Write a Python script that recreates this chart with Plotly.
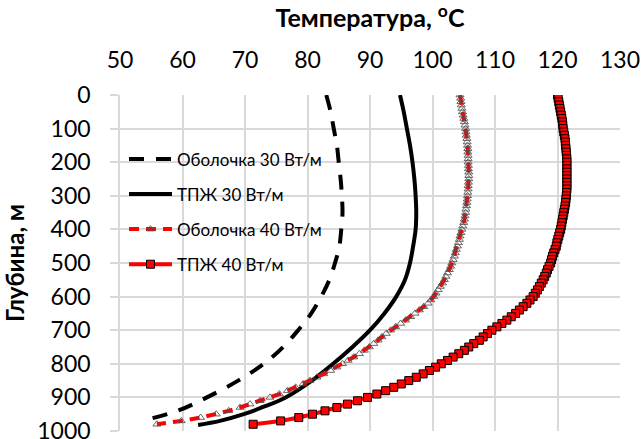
import plotly.graph_objects as go

# ---- data ----
x_title = "Температура, <sup>o</sup>C"
y_title = "Глубина, м"
names = ["Оболочка 30 Вт/м", "ТПЖ 30 Вт/м", "Оболочка 40 Вт/м", "ТПЖ 40 Вт/м"]

depth_shell30 = [0, 50, 100, 150, 200, 250, 300, 350, 400, 450, 500, 550, 600, 650,
                 700, 750, 800, 850, 900, 940, 970]
temp_shell30 = [83.0, 83.7, 84.2, 84.7, 85.0, 85.3, 85.5, 85.6, 85.4, 85.1, 84.4, 83.5,
                82.2, 80.6, 78.5, 76.1, 73.0, 68.9, 63.9, 59.2, 53.4]

depth_fluid30 = [0, 50, 100, 150, 200, 250, 300, 350, 400, 450, 500, 550, 600, 650,
                 700, 750, 800, 850, 900, 930, 950, 970, 982]
temp_fluid30 = [94.8, 95.4, 95.9, 96.4, 96.8, 97.1, 97.3, 97.4, 97.3, 96.9, 96.4, 95.6,
                94.2, 92.3, 90.0, 87.2, 84.1, 80.7, 76.5, 72.7, 69.8, 66.0, 62.5]

depth_fine = [0, 10, 20, 30, 40, 50, 60, 70, 80, 90,
              100, 110, 120, 130, 140, 150, 160, 170, 180, 190,
              200, 210, 220, 230, 240, 250, 260, 270, 280, 290,
              300, 310, 320, 330, 340, 350, 360, 370, 380, 390,
              400, 410, 420, 430, 440, 450, 460, 470, 480, 490,
              500, 510, 520, 530, 540, 550, 560, 570, 580, 590,
              600, 610, 620, 630, 640, 650, 660, 670, 680, 690,
              700, 710, 720, 730, 740, 750, 760, 770, 780, 790,
              800, 810, 820, 830, 840, 850, 860, 870, 880, 890,
              900, 910, 920, 930, 940, 950, 960, 970, 980]

temp_shell40 = [104.4, 104.5, 104.55, 104.6, 104.7, 104.8, 104.9, 105.0, 105.1, 105.2,
                105.3, 105.35, 105.4, 105.5, 105.55, 105.6, 105.65, 105.65, 105.7, 105.7,
                105.7, 105.75, 105.75, 105.8, 105.8, 105.8, 105.75, 105.7, 105.7, 105.65,
                105.6, 105.55, 105.5, 105.45, 105.35, 105.3, 105.2, 105.1, 105.0, 104.85,
                104.7, 104.55, 104.4, 104.3, 104.15, 104.0, 103.8, 103.65, 103.5, 103.3,
                103.1, 102.9, 102.7, 102.4, 102.15, 101.9, 101.6, 101.25, 100.9, 100.55,
                100.2, 99.75, 99.3, 98.6, 97.9, 97.2, 96.5, 95.7, 94.9, 94.1,
                93.3, 92.6, 91.9, 91.3, 90.6, 89.9, 89.1, 88.3, 87.4, 86.5,
                85.6, 84.7, 83.7, 82.6, 81.5, 80.4, 79.3, 78.1, 76.8, 75.5,
                74.0, 72.4, 70.8, 69.2, 67.4, 65.4, 62.9, 59.8, 55.9]

temp_fluid40 = [120.0, 120.1, 120.2, 120.3, 120.4, 120.5, 120.6, 120.7, 120.8, 120.85,
                120.9, 121.0, 121.1, 121.2, 121.25, 121.3, 121.35, 121.4, 121.45, 121.5,
                121.5, 121.5, 121.5, 121.5, 121.5, 121.5, 121.5, 121.5, 121.5, 121.45,
                121.4, 121.35, 121.3, 121.2, 121.1, 121.0, 120.9, 120.8, 120.7, 120.6,
                120.5, 120.35, 120.2, 120.05, 119.9, 119.8, 119.6, 119.4, 119.2, 119.05,
                118.9, 118.65, 118.4, 118.2, 117.95, 117.7, 117.4, 117.1, 116.8, 116.45,
                116.1, 115.6, 115.1, 114.5, 113.9, 113.3, 112.6, 111.9, 111.1, 110.3,
                109.5, 108.8, 108.1, 107.5, 106.6, 105.8, 105.1, 104.2, 103.3, 102.4,
                101.4, 100.5, 99.5, 98.5, 97.4, 96.2, 95.0, 93.8, 92.5, 91.1,
                89.6, 88.0, 86.4, 84.7, 82.8, 80.8, 78.6, 75.7, 71.3]

x_ticks = [50, 60, 70, 80, 90, 100, 110, 120, 130]
y_ticks = [0, 100, 200, 300, 400, 500, 600, 700, 800, 900, 1000]

FONT = "Lato, 'Open Sans', sans-serif"

fig = go.Figure()
fig.add_trace(go.Scatter(
    x=temp_shell30, y=depth_shell30, name=names[0], mode="lines",
    line=dict(color="black", width=4, dash="15px,12px", shape="spline"),
    legendgroup="a"))
fig.add_trace(go.Scatter(
    x=temp_fluid30, y=depth_fluid30, name=names[1], mode="lines",
    line=dict(color="black", width=4, shape="spline"),
    legendgroup="b"))
fig.add_trace(go.Scatter(
    x=temp_shell40, y=depth_fine, name=names[2], mode="lines+markers",
    line=dict(color="#ff0000", width=4, dash="10px,7px"),
    marker=dict(symbol="triangle-up-open", size=7, color="rgba(80,80,80,0.85)",
                line=dict(width=1)),
    legendgroup="c"))
fig.add_trace(go.Scatter(
    x=temp_fluid40, y=depth_fine, name=names[3], mode="lines+markers",
    line=dict(color="#ff0000", width=4),
    marker=dict(symbol="square", size=8, color="#ff0000",
                line=dict(color="black", width=1)),
    legendgroup="d"))

fig.update_layout(
    width=643, height=439,
    margin=dict(l=120, r=23, t=95, b=8),
    paper_bgcolor="white", plot_bgcolor="white",
    font=dict(family=FONT, color="black", size=23),
    showlegend=True,
    legend=dict(x=0.008, y=0.862, xanchor="left", yanchor="top",
                bgcolor="rgba(255,255,255,0)", font=dict(size=17, family=FONT),
                tracegroupgap=10, itemwidth=43),
    xaxis=dict(
        side="top", range=[50, 130], tickvals=x_ticks, ticktext=[str(v) for v in x_ticks],
        showgrid=True, gridcolor="#d9d9d9", gridwidth=1.5, zeroline=False,
        showline=False, ticks="", ticklabelstandoff=21, automargin=False,
        ticklabeloverflow="allow",
        tickfont=dict(size=23),
        title=dict(text=x_title, font=dict(size=25, family=FONT, weight="bold"), standoff=12),
    ),
    yaxis=dict(
        range=[1000, 0], tickvals=y_ticks, ticktext=[str(v) for v in y_ticks],
        showgrid=True, gridcolor="#d9d9d9", gridwidth=1.5, zeroline=False,
        showline=True, linecolor="#d9d9d9", linewidth=1.5,
        ticks="outside", ticklen=8, tickcolor="#d9d9d9", tickwidth=1.5,
        ticklabelstandoff=15, tickfont=dict(size=23), automargin=False,
        ticklabeloverflow="allow",
        title=dict(text=y_title, font=dict(size=24, family=FONT, weight="bold"), standoff=12),
    ),
)

fig.write_html("out.html", config={"displayModeBar": False},
               post_script="document.body.style.margin='0px';")
